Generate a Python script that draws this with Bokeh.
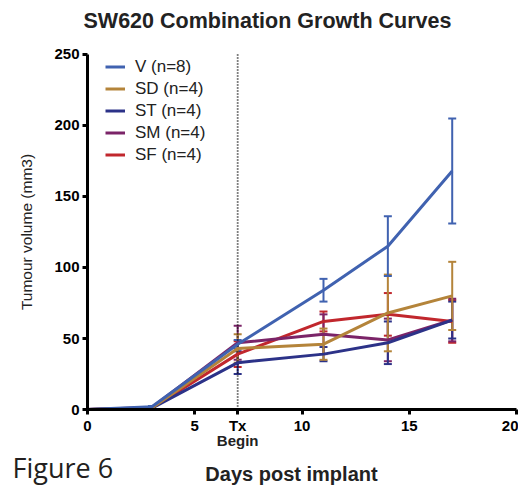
from bokeh.plotting import figure
from bokeh.models import (ColumnDataSource, Range1d, FixedTicker, Label,
                          Whisker, TeeHead, Legend, LegendItem)
from bokeh.embed import file_html
from bokeh.resources import INLINE

# ---- data ----
days = [0, 3, 7, 11, 14, 17]
series_names = ["V (n=8)", "SD (n=4)", "ST (n=4)", "SM (n=4)", "SF (n=4)"]
V_mean = [0, 2, 46, 84, 115, 168]
V_sem = [0, 0.5, 3, 8, 21, 37]
SD_mean = [0, 1, 43, 46, 68, 80]
SD_sem = [0, 0.3, 10, 11, 27, 24]
ST_mean = [0, 1, 33, 39, 47, 63]
ST_sem = [0, 0.3, 8, 5, 15, 13]
SM_mean = [0, 1.5, 47, 53, 49, 63]
SM_sem = [0, 0.3, 12, 14, 15, 15]
SF_mean = [0, 1, 39, 62, 67, 62]
SF_sem = [0, 0.3, 9, 7, 15, 15]
colors = ["#4062B0", "#B4843A", "#2C3288", "#7B2468", "#C1272D"]
x_ticks = [0, 5, 7, 10, 15, 20]
x_tick_labels = {7: "Tx"}
y_ticks = [0, 50, 100, 150, 200, 250]
tx_day = 7
x_axis_max = 20
y_axis_max = 250

FONT = "Liberation Sans"

# the frame fills the whole canvas; axes sit at fixed locations inside it
p = figure(width=518, height=485, output_backend="svg", toolbar_location=None,
           x_range=Range1d(-4.056, 20.09), y_range=Range1d(-53.5, 288.0),
           min_border_left=0, min_border_right=0, min_border_top=0,
           min_border_bottom=0)
p.outline_line_color = None
p.grid.visible = False
p.background_fill_color = "white"
p.border_fill_color = "white"


def style_axis(ax):
    ax.axis_line_width = 3
    ax.axis_line_color = "black"
    ax.major_tick_line_width = 3
    ax.major_tick_line_color = "black"
    ax.major_tick_out = 5
    ax.major_tick_in = 0
    ax.minor_tick_line_color = None
    ax.major_label_text_font = FONT
    ax.major_label_text_font_style = "bold"
    ax.major_label_text_font_size = "15px"
    ax.major_label_text_color = "black"


xa = p.xaxis[0]
ya = p.yaxis[0]
style_axis(xa)
style_axis(ya)
xa.fixed_location = 0
ya.fixed_location = 0
xa.bounds = (0, x_axis_max)
ya.bounds = (0, y_axis_max)
xa.ticker = FixedTicker(ticks=x_ticks)
xa.major_label_overrides = dict(x_tick_labels)
xa.major_label_standoff = 2
ya.ticker = FixedTicker(ticks=y_ticks)
ya.major_label_standoff = 3
ya.axis_label = "Tumour volume (mm3)"
ya.axis_label_text_font = FONT
ya.axis_label_text_font_style = "normal"
ya.axis_label_text_font_size = "15.5px"
ya.axis_label_text_color = "#222222"
ya.axis_label_standoff = 16

# dotted "treatment begins" line
p.segment(x0=[tx_day], y0=[0], x1=[tx_day], y1=[y_axis_max],
          line_color="black", line_width=1.8, line_dash="1 2")

means = [V_mean, SD_mean, ST_mean, SM_mean, SF_mean]
sems = [V_sem, SD_sem, ST_sem, SM_sem, SF_sem]

renderers = {}
for idx in [4, 3, 2, 1, 0]:
    m = means[idx]
    s = sems[idx]
    c = colors[idx]
    src = ColumnDataSource(dict(x=days, y=m,
                                lower=[a - b for a, b in zip(m, s)],
                                upper=[a + b for a, b in zip(m, s)]))
    w = Whisker(source=src, base="x", lower="lower", upper="upper",
                line_color=c, line_width=2,
                upper_head=TeeHead(size=8, line_color=c, line_width=2),
                lower_head=TeeHead(size=8, line_color=c, line_width=2))
    p.add_layout(w)
    r = p.line("x", "y", source=src, line_color=c, line_width=3)
    renderers[idx] = r

items = [LegendItem(label=series_names[i], renderers=[renderers[i]]) for i in range(5)]
legend = Legend(items=items, location=(105, 320), margin=0, padding=0,
                spacing=1, glyph_width=20, glyph_height=21, label_height=21,
                label_standoff=10, label_text_font=FONT,
                label_text_font_size="17px", label_text_color="#222222",
                border_line_color=None, background_fill_alpha=0)
p.add_layout(legend)

p.add_layout(Label(x=83, y=465, x_units="screen", y_units="screen",
                   text="SW620 Combination Growth Curves", text_font=FONT,
                   text_font_style="bold", text_font_size="21.5px",
                   text_color="#222222", text_align="left",
                   text_baseline="alphabetic"))
p.add_layout(Label(x=tx_day, y=45, x_units="data", y_units="screen",
                   text="Begin", text_font=FONT, text_font_style="bold",
                   text_font_size="15px", text_color="#222222",
                   text_align="center", text_baseline="alphabetic"))
p.add_layout(Label(x=291, y=12, x_units="screen", y_units="screen",
                   text="Days post implant", text_font=FONT,
                   text_font_style="bold", text_font_size="20px",
                   text_color="#222222", text_align="center",
                   text_baseline="alphabetic"))
p.add_layout(Label(x=12, y=18, x_units="screen", y_units="screen",
                   text="Figure 6", text_font="Open Sans",
                   text_font_size="27px", text_color="#231F20",
                   text_align="left", text_baseline="alphabetic"))

open("out.html", "w").write(file_html(p, INLINE))
